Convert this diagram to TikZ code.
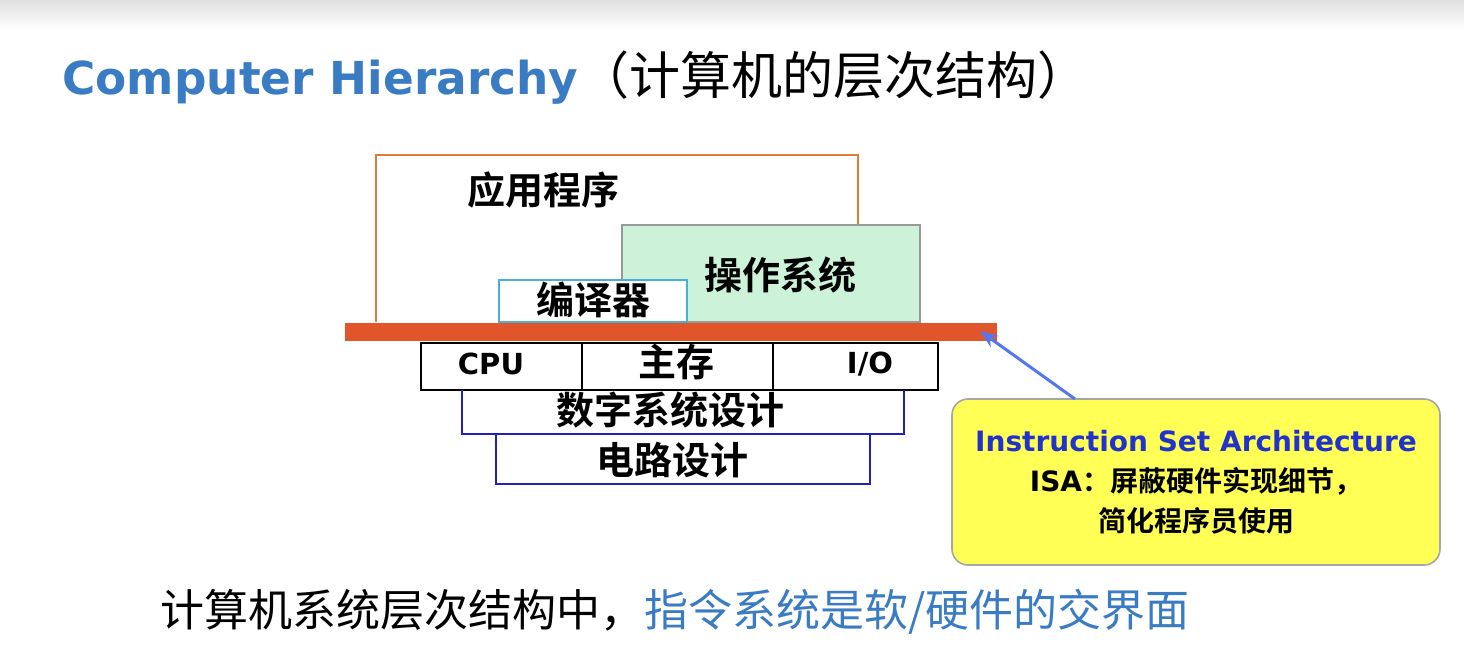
\documentclass[tikz,border=0pt]{standalone}
\usepackage{fontspec}
\setmainfont{Noto Sans CJK SC}[BoldFont={Noto Sans CJK SC Bold}]
\newfontfamily\lat{DejaVu Sans}[BoldFont={DejaVu Sans Bold}]
\definecolor{ttl}{HTML}{3A7CC4}
\definecolor{org}{HTML}{E07B39}
\definecolor{grn}{HTML}{CCF2DA}
\definecolor{cyb}{HTML}{4AAFD8}
\definecolor{redb}{HTML}{E0552A}
\definecolor{blb}{HTML}{2222BB}
\definecolor{ylw}{HTML}{FFFF55}
\definecolor{isab}{HTML}{2233CC}
\definecolor{arr}{HTML}{5577EE}
\usetikzlibrary{arrows.meta}
\begin{document}
\begin{tikzpicture}[x=0.5pt,y=-0.5pt,
  lbl/.style={font=\bfseries\fontsize{19}{22}\selectfont},
  box/.style={line width=1.2pt}]
\useasboundingbox (0,0) rectangle (1464,648);
\fill[white] (0,0) rectangle (1464,648);
\shade[top color=black!12,bottom color=white] (0,0) rectangle (1464,30);
\node[anchor=west,inner sep=0] (title) at (62,78) {{\lat\bfseries\color{ttl}\fontsize{22.7}{26}\selectfont Computer Hierarchy}{\fontsize{25.5}{28}\selectfont（计算机的层次结构）}};
\draw[box,org] (376,322) -- (376,155) -- (858,155) -- (858,225);
\node[lbl] (app) at (543,190) {应用程序};
\draw[box,black!40,fill=grn] (622,322) rectangle (920,225);
\node[lbl] (os) at (780,275) {操作系统};
\draw[box,cyb,fill=white] (499,322) rectangle (687,280);
\node[lbl] (cc) at (593,300) {编译器};
\fill[redb] (345,323) rectangle (997,341);
\coordinate (bar) at (980,331);
\draw[box,black] (421,343) rectangle (938,390);
\draw[box,black] (582,343) -- (582,390) (773,343) -- (773,390);
\node[lbl] (cpu) at (491,364) {\lat\bfseries\fontsize{14.5}{16}\selectfont CPU};
\node[lbl] (mem) at (676,362) {主存};
\node[lbl] (io) at (870,364) {\lat\bfseries\fontsize{14.5}{16}\selectfont I/O};
\draw[box,blb] (462,390) -- (462,434) -- (904,434) -- (904,390);
\node[lbl] (dsd) at (670,410) {数字系统设计};
\draw[box,blb] (496,434) rectangle (870,484);
\node[lbl] (cd) at (672,460) {电路设计};
\draw[line width=0.8pt,black!35,fill=ylw,rounded corners=8pt] (952,399) rectangle (1440,565);
\node[align=center,font=\bfseries\fontsize{14}{20}\selectfont] (isa) at (1196,482)
 {{\lat\bfseries\color{isab}Instruction Set Architecture}\\ {\lat\bfseries ISA}：屏蔽硬件实现细节，\\简化程序员使用};
\draw[arr,line width=1.5pt,-{Stealth[length=9pt]}] (1075,399) -- (bar);
\node[anchor=west,inner sep=0] (foot) at (160,612) {\fontsize{22}{26}\selectfont 计算机系统层次结构中，{\color{ttl}指令系统是软/硬件的交界面}};
\end{tikzpicture}
\end{document}
